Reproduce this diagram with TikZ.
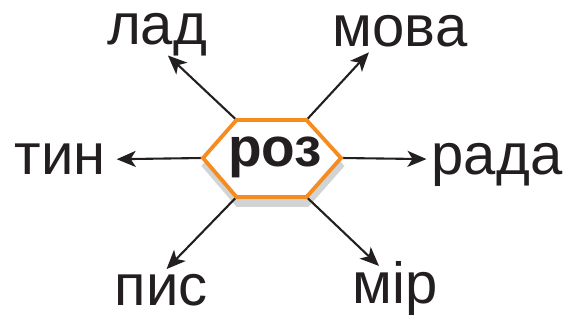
\documentclass[tikz,border=0pt]{standalone}
\usepackage{fontspec}
\setmainfont{Liberation Sans}
\usetikzlibrary{arrows.meta}
\definecolor{hexorange}{HTML}{F68B1F}
\definecolor{shadowgray}{HTML}{D1D3D4}
\definecolor{inkblack}{HTML}{231F20}

\begin{document}
\begin{tikzpicture}[x=1pt, y=-1pt,
    word/.style={font=\fontsize{58}{60}\selectfont, text=inkblack, inner sep=0pt,
      text height=30pt, text depth=0pt, anchor=base},
    rootword/.style={font=\bfseries\fontsize{55}{58}\selectfont, text=inkblack,
      inner sep=0pt, anchor=base},
    ptr/.style={draw=inkblack, line width=2.1pt,
      -{Stealth[length=19pt, width=16pt, inset=5pt]}},
    hexline/.style={draw=hexorange, line width=3.8pt, fill=white}]
    \useasboundingbox (0,0) rectangle (575,323);
    % Corners of the hexagon
    \coordinate (tl) at (236.5,120);
    \coordinate (tr) at (306.5,120);
    \coordinate (mr) at (341,158);
    \coordinate (br) at (306.5,197);
    \coordinate (bl) at (236.5,197);
    \coordinate (ml) at (203,158);
    % Shadow under the hexagon
    \filldraw[shadowgray, line width=3.8pt] ([shift={(1,8)}]tl) -- ([shift={(1,8)}]tr)
      -- ([shift={(1,8)}]mr) -- ([shift={(1,8)}]br) -- ([shift={(1,8)}]bl)
      -- ([shift={(1,8)}]ml) -- cycle;
    % Words around
    \node[word] (lad) at (157,45) {лад};
    \node[word] (mova) at (400,47) {мова};
    \node[word] (tin) at (60,175) {тин};
    \node[word] (rada) at (497,175) {рада};
    \node[word] (pis) at (161,305) {пис};
    \node[word] (mir) at (395,303) {мір};
    % Arrows out of the corners
    \draw[ptr, shorten >=15pt] (tl) -- (lad.south);
    \draw[ptr, shorten >=7pt] (tr) -- (mova.210);
    \draw[ptr, shorten >=11pt] (ml) -- (tin);
    \draw[ptr, shorten >=5pt] (mr) -- (rada);
    \draw[ptr, shorten >=8pt] (bl) -- (pis.north);
    \draw[ptr, shorten >=10pt] (br) -- (mir.120);
    % Hexagon with the root
    \path[hexline] (tl) -- (tr) -- (mr) -- (br) -- (bl) -- (ml) -- cycle;
    \node[rootword] (roz) at (275,167) {роз};
\end{tikzpicture}
\end{document}
